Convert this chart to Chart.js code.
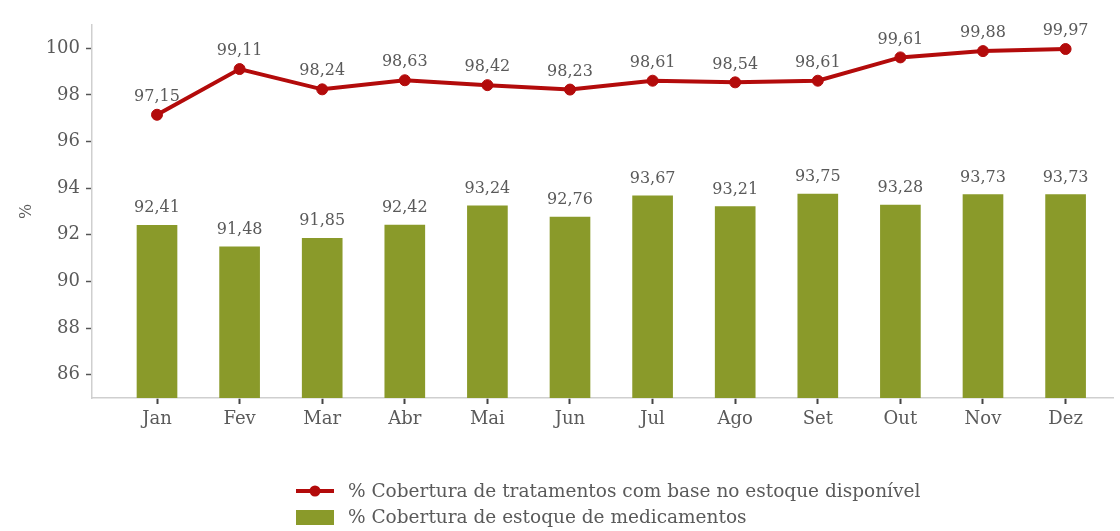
<!DOCTYPE html>
<html>
<head>
<meta charset="utf-8">
<script src="https://cdn.jsdelivr.net/npm/chart.js@4"></script>
<style>
html,body{margin:0;padding:0;background:#fff;}
#wrap{width:1120px;height:531px;position:relative;}
</style>
</head>
<body>
<div id="wrap"><canvas id="chart"></canvas></div>
<script>
const months = ["Jan","Fev","Mar","Abr","Mai","Jun","Jul","Ago","Set","Out","Nov","Dez"];
const tratamentos = [97.15,99.11,98.24,98.63,98.42,98.23,98.61,98.54,98.61,99.61,99.88,99.97];
const estoque = [92.41,91.48,91.85,92.42,93.24,92.76,93.67,93.21,93.75,93.28,93.73,93.73];
const yTicks = [86,88,90,92,94,96,98,100];

const red = "#b30b0b";
const green = "#8a9a2a";
const grey = "#5a5a5a";
const serif = "'DejaVu Serif', serif";

const fmt = v => v.toFixed(2).replace(".", ",");

// value labels above points and bars
const valueLabels = {
    id: "valueLabels",
    afterDatasetsDraw(chart){
        const ctx = chart.ctx;
        ctx.save();
        ctx.font = "16px " + serif;
        ctx.fillStyle = grey;
        ctx.textAlign = "center";
        ctx.textBaseline = "middle";
        chart.data.datasets.forEach((ds, i) => {
            chart.getDatasetMeta(i).data.forEach((el, j) => {
                const off = ds.type === "line" ? 18 : 17;
                ctx.fillText(fmt(ds.data[j].y), el.x, el.y - off);
            });
        });
        ctx.restore();
    }
};

// legend stacked under the axis
const stackedLegend = {
    id: "stackedLegend",
    afterDraw(chart){
        const ctx = chart.ctx;
        const x0 = 296, x1 = 334, tx = 348;
        ctx.save();
        ctx.font = "18.5px " + serif;
        ctx.fillStyle = grey;
        ctx.textBaseline = "middle";
        const line = chart.data.datasets[0];
        ctx.strokeStyle = line.borderColor;
        ctx.lineWidth = 4;
        ctx.beginPath(); ctx.moveTo(x0, 491); ctx.lineTo(x1, 491); ctx.stroke();
        ctx.fillStyle = line.borderColor;
        ctx.beginPath(); ctx.arc((x0 + x1) / 2, 491, 5.5, 0, Math.PI * 2); ctx.fill();
        ctx.fillStyle = grey;
        ctx.fillText(line.label, tx, 492);
        const bar = chart.data.datasets[1];
        ctx.fillStyle = bar.backgroundColor;
        ctx.fillRect(x0, 510, x1 - x0, 15);
        ctx.fillStyle = grey;
        ctx.fillText(bar.label, tx, 518);
        ctx.restore();
    }
};

new Chart(document.getElementById("chart"), {
    type: "bar",
    data: {
        datasets: [
            {
                type: "line",
                label: "% Cobertura de tratamentos com base no estoque disponível",
                data: tratamentos.map((v, i) => ({x: i, y: v})),
                borderColor: red, backgroundColor: red,
                borderWidth: 4, pointRadius: 5.5, pointHoverRadius: 5.5, pointBorderWidth: 1,
                tension: 0, order: 0
            },
            {
                type: "bar",
                label: "% Cobertura de estoque de medicamentos",
                data: estoque.map((v, i) => ({x: i, y: v})),
                backgroundColor: green,
                barThickness: 40, order: 1
            }
        ]
    },
    options: {
        responsive: true, maintainAspectRatio: false, animation: false,
        layout: { padding: { top: 25, right: 0, left: 0, bottom: 0 } },
        plugins: { legend: { display: false }, tooltip: { enabled: false } },
        scales: {
            x: {
                type: "linear", min: -0.787, max: 11.58, offset: false,
                afterBuildTicks: s => { s.ticks = months.map((m, i) => ({value: i})); },
                afterFit: s => { s.height = 133; },
                ticks: { color: grey, font: {size: 18, family: serif}, padding: 5, callback: v => months[v] },
                grid: { offset: false, drawOnChartArea: false, tickLength: 6, tickColor: "#444", tickWidth: 2 },
                border: { color: "#cfcfcf", width: 1.5 }
            },
            y: {
                min: 85, max: 101,
                afterBuildTicks: s => { s.ticks = yTicks.map(v => ({value: v})); },
                afterFit: s => { s.width = 92; },
                ticks: { color: grey, font: {size: 18, family: serif}, padding: 6 },
                grid: { drawOnChartArea: false, tickLength: 6, tickColor: "#555", tickWidth: 1.5 },
                border: { color: "#cfcfcf", width: 1.5 },
                title: { display: true, text: "%", color: grey, font: {size: 16, family: serif}, padding: {top: 17} }
            }
        }
    },
    plugins: [valueLabels, stackedLegend]
});
</script>
</body>
</html>
